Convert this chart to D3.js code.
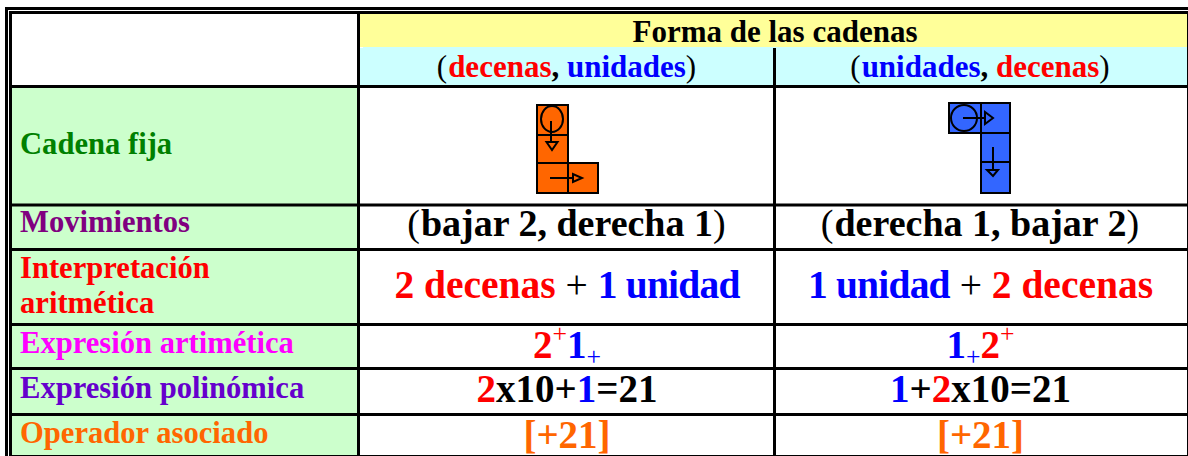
<!DOCTYPE html>
<html>
<head>
<meta charset="utf-8">
<script src="https://cdn.jsdelivr.net/npm/d3@7"></script>
<style>
  html, body { margin: 0; padding: 0; background: #fff; overflow: hidden; }
  svg { display: block; }
  text { font-family: "Liberation Serif", serif; font-weight: bold; }
</style>
</head>
<body>
<svg id="chart" width="1188" height="456"></svg>
<script>
const RED = '#ff0000';
const BLUE = '#0000ff';
const BLACK = '#000000';
const ORANGE = '#ff6600';

const rowNames = ['head1', 'head2', 'fija', 'mov', 'interp', 'arit', 'poli', 'oper'];
const columnNames = ['label', 'decenas', 'unidades'];

const rowLabels = [
  { row: 'fija', lines: ['Cadena fija'], color: '#008000' },
  { row: 'mov', lines: ['Movimientos'], color: '#800080' },
  { row: 'interp', lines: ['Interpretación', 'aritmética'], color: '#ff0000' },
  { row: 'arit', lines: ['Expresión artimética'], color: '#ff00ff' },
  { row: 'poli', lines: ['Expresión polinómica'], color: '#6600cc' },
  { row: 'oper', lines: ['Operador asociado'], color: ORANGE }
];

// every cell is a list of [text, colour, style] runs
const headerRuns = {
  decenas: [['(', BLACK, 'paren'], ['decenas', RED], [', ', BLACK], ['unidades', BLUE], [')', BLACK, 'paren']],
  unidades: [['(', BLACK, 'paren'], ['unidades', BLUE], [', ', BLACK], ['decenas', RED], [')', BLACK, 'paren']]
};
const movRuns = {
  decenas: [['(', BLACK, 'paren'], ['bajar 2, derecha 1', BLACK], [')', BLACK, 'paren']],
  unidades: [['(', BLACK, 'paren'], ['derecha 1, bajar 2', BLACK], [')', BLACK, 'paren']]
};
const interpRuns = {
  decenas: [['2 decenas', RED], [' + ', BLACK, 'plain'], ['1 unidad', BLUE, 'tight']],
  unidades: [['1 unidad', BLUE, 'tight'], [' + ', BLACK, 'plain'], ['2 decenas', RED]]
};
const aritRuns = {
  decenas: [['2', RED], ['+', RED, 'sup'], ['1', BLUE], ['+', BLUE, 'sub']],
  unidades: [['1', BLUE], ['+', BLUE, 'sub'], ['2', RED], ['+', RED, 'sup']]
};
const poliRuns = {
  decenas: [['2', RED], ['x10+', BLACK], ['1', BLUE], ['=21', BLACK]],
  unidades: [['1', BLUE], ['+', BLACK], ['2', RED], ['x10=21', BLACK]]
};
const operRuns = {
  decenas: [['[+21]', ORANGE]],
  unidades: [['[+21]', ORANGE]]
};

// chain squares in grid units: column, row
const chainDecenas = [[0, 0], [0, 1], [0, 2], [1, 2]];
const chainUnidades = [[0, 0], [1, 0], [1, 1], [1, 2]];

const svg = d3.select('#chart');

// row and column edges
const rowEdges = [14, 47, 88, 206, 251, 326, 370, 416, 455];
const colEdges = [12, 360, 776, 1187];
const y = d3.scaleOrdinal().domain(rowNames).range(rowEdges.slice(0, -1));
const yEnd = d3.scaleOrdinal().domain(rowNames).range(rowEdges.slice(1));
const x = d3.scaleOrdinal().domain(columnNames).range(colEdges.slice(0, -1));
const xEnd = d3.scaleOrdinal().domain(columnNames).range(colEdges.slice(1));
const midX = c => (x(c) + xEnd(c)) / 2 - 1;

function fillRect(x0, y0, x1, y1, color) {
  svg.append('rect')
    .attr('x', x0).attr('y', y0)
    .attr('width', x1 - x0).attr('height', y1 - y0)
    .attr('fill', color);
}

fillRect(x('label'), y('fija'), xEnd('label'), yEnd('oper'), '#ccffcc');
fillRect(x('decenas'), y('head1'), xEnd('unidades'), y('head2'), '#ffff99');
fillRect(x('decenas'), y('head2'), xEnd('unidades'), y('fija'), '#ccffff');
fillRect(x('decenas'), y('head2'), x('decenas') + 3, y('head2') + 1, '#ffffff');

function runs(list, col, baseline, size) {
  const t = svg.append('text')
    .attr('x', midX(col))
    .attr('y', baseline)
    .attr('text-anchor', 'middle')
    .attr('font-size', size)
    .attr('xml:space', 'preserve');
  let shift = 0;
  list.forEach(([str, color, style]) => {
    const span = t.append('tspan').attr('fill', color).text(str);
    let target = 0;
    if (style === 'sup') { target = -size * 0.41; span.attr('font-size', size * 0.66).attr('font-weight', 'normal'); }
    if (style === 'sub') { target = size * 0.18; span.attr('font-size', size * 0.66).attr('font-weight', 'normal'); }
    if (style === 'plain') { span.attr('font-weight', 'normal'); }
    if (style === 'tight') { span.attr('letter-spacing', -0.8); }
    if (style === 'paren') { span.attr('font-weight', 'normal').attr('letter-spacing', 1); }
    span.attr('dy', target - shift);
    shift = target;
  });
}

svg.append('text')
  .attr('x', 775).attr('y', 42)
  .attr('text-anchor', 'middle')
  .attr('font-size', 31)
  .attr('fill', BLACK)
  .text('Forma de las cadenas');

['decenas', 'unidades'].forEach(c => {
  runs(headerRuns[c], c, 77, 31);
  runs(movRuns[c], c, 236, 38);
  runs(interpRuns[c], c, 298, 39.5);
  runs(aritRuns[c], c, 358, 39);
  runs(poliRuns[c], c, 402, 39);
  runs(operRuns[c], c, 448, 39);
});

const labelBaselines = { fija: 154, mov: 232, interp: [278, 313], arit: 353, poli: 398, oper: 443 };
rowLabels.forEach(d => {
  d.lines.forEach((line, i) => {
    const base = labelBaselines[d.row];
    svg.append('text')
      .attr('x', 20)
      .attr('y', Array.isArray(base) ? base[i] : base)
      .attr('font-size', 30.6)
      .attr('fill', d.color)
      .text(line);
  });
});

// chains
function drawChain(cells, xEdges, yEdges, color, circle, arrows) {
  const g = svg.append('g').attr('stroke', '#000').attr('stroke-width', 2);
  g.selectAll('rect').data(cells).join('rect')
    .attr('x', d => xEdges[d[0]])
    .attr('y', d => yEdges[d[1]])
    .attr('width', d => xEdges[d[0] + 1] - xEdges[d[0]])
    .attr('height', d => yEdges[d[1] + 1] - yEdges[d[1]])
    .attr('fill', color);
  g.append('ellipse')
    .attr('cx', circle[0]).attr('cy', circle[1]).attr('rx', circle[2]).attr('ry', circle[3])
    .attr('fill', 'none');
  arrows.forEach(a => {
    g.append('line').attr('x1', a[0]).attr('y1', a[1]).attr('x2', a[2]).attr('y2', a[3]);
    g.append('path').attr('d', a[4]).attr('fill', 'none');
  });
}

drawChain(chainDecenas, [537, 568, 598], [105, 135, 163, 193], ORANGE, [552, 119, 11, 13], [
  [551, 121, 551, 142, 'M546.5 142H557.5L552 150Z'],
  [550, 178, 573, 178, 'M573 174V182L582 178Z']
]);
drawChain(chainUnidades, [949, 981, 1010], [103, 133, 162, 193], '#3366ff', [964, 118, 13, 13], [
  [963, 118, 985, 118, 'M985 112V124L993 118Z'],
  [993, 147, 993, 170, 'M987 170H998L993 176Z']
]);

// grid lines
const hLine = (x0, x1, yy, w) => svg.append('line')
  .attr('x1', x0).attr('x2', x1).attr('y1', yy).attr('y2', yy)
  .attr('stroke', '#000').attr('stroke-width', w);
const vLine = (xx, y0, y1, w) => svg.append('line')
  .attr('x1', xx).attr('x2', xx).attr('y1', y0).attr('y2', y1)
  .attr('stroke', '#000').attr('stroke-width', w);

[86.5, 205, 249.5, 324.5, 368.5, 414.5].forEach(v => hLine(10, 1187, v, 3));
vLine(358.5, 13, 455, 3);
vLine(774.5, 48, 455, 3);

// double frame
hLine(5, 1188, 8.5, 3);
hLine(9, 1188, 12.5, 3);
vLine(6.5, 7, 456, 3);
vLine(10.5, 11, 456, 3);
vLine(1187.5, 11, 456, 1);
hLine(9, 1188, 455.5, 1);
</script>
</body>
</html>
